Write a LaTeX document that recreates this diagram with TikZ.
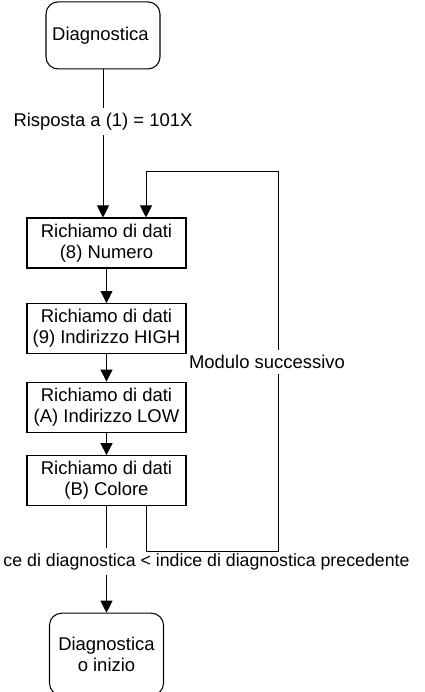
\documentclass[tikz,border=0pt]{standalone}
\usepackage{fontspec}
\setmainfont{Liberation Sans}
\usepackage{tikz}
\usetikzlibrary{
  arrows.meta,
  positioning
}
\tikzset{
  databox/.style={
    draw,
    line width=0.6pt,
    align=center,
    minimum width=3.18cm,
    minimum height=1cm,
    inner sep=1pt
  },
  terminal/.style={
    draw,
    line width=0.6pt,
    rounded corners=0.24cm,
    align=center,
    minimum width=2.28cm,
    minimum height=1.34cm
  },
  flow/.style={
    -{Triangle[length=0.24cm,width=0.24cm]},
    line width=0.5pt
  },
  cond/.style={
    fill=white,
    inner xsep=1pt,
    inner ysep=0.1cm
  }
}

\begin{document}
\begin{tikzpicture}[font=\fontsize{10.5}{12}\selectfont]

  \useasboundingbox (-2.13,4.86) rectangle (6.35,-8.98);

  \node[databox] (numero) {
    Richiamo di dati\\
    (8) Numero
  };

  \node[
    databox,
    below=0.69cm of numero
  ] (high) {
    Richiamo di dati\\
    (9) Indirizzo HIGH
  };

  \node[
    databox,
    below=0.55cm of high
  ] (low) {
    Richiamo di dati\\
    (A) Indirizzo LOW
  };

  \node[
    databox,
    below=0.45cm of low
  ] (colore) {
    Richiamo di dati\\
    (B) Colore
  };

  \node[
    terminal,
    above=2.96cm of numero,
    xshift=-0.07cm
  ] (diag) {
    Diagnostica
  };

  \node[
    terminal,
    minimum height=1.64cm,
    below=2.13cm of colore
  ] (inizio) {
    Diagnostica\\
    o inizio
  };

  \draw[flow]
  (diag.south) --
  node[cond, pos=0.35] {
    Risposta a (1) = 101X
  }
  (diag.south |- numero.north);

  \draw[flow] (numero) -- (high);
  \draw[flow] (high) -- (low);
  \draw[flow] (low) -- (colore);

  \draw[flow]
  (colore) --
  node[
    cond,
    pos=0.53,
    xshift=2.0cm,
    yshift=0.02cm,
    font=\fontsize{10.1}{12}\selectfont
  ] {
    ce di diagnostica < indice di diagnostica precedente
  }
  (inizio);

  % ciclo verso il modulo successivo
  \coordinate (loopbl) at ([xshift=0.79cm, yshift=-0.9cm]colore.south);
  \coordinate (loopbr) at ([xshift=3.43cm, yshift=-0.9cm]colore.south);
  \coordinate (looptr) at ([xshift=3.43cm, yshift=0.92cm]numero.north);
  \coordinate (looptl) at ([xshift=0.79cm, yshift=0.92cm]numero.north);

  \draw[flow]
  ([xshift=0.79cm]colore.south) -- (loopbl) -- (loopbr) --
  node[cond, pos=0.49, xshift=-0.22cm, yshift=0.06cm] {
    Modulo successivo
  }
  (looptr) -- (looptl) -- ([xshift=0.79cm]numero.north);

\end{tikzpicture}
\end{document}
